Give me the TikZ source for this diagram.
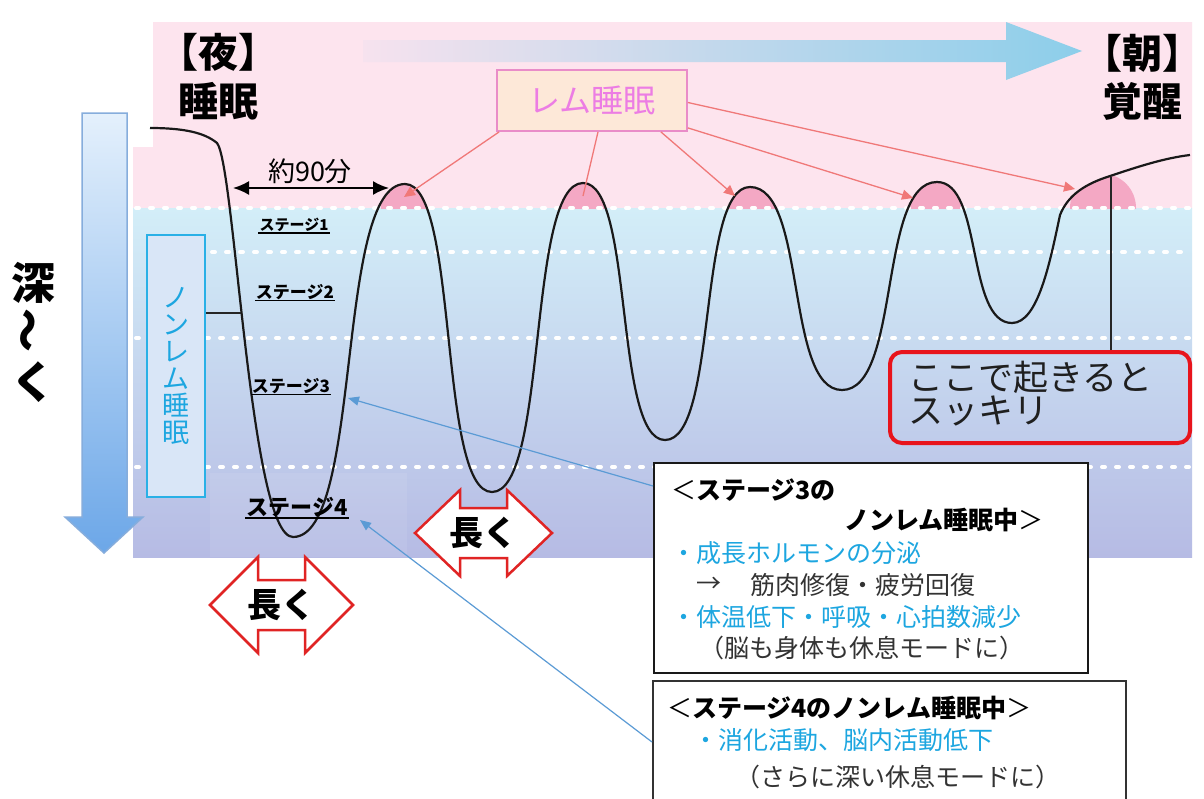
\documentclass[tikz,border=0pt]{standalone}
\usepackage{fontspec}
\usepackage{graphicx}
\setmainfont{Noto Sans CJK JP}
\newfontfamily\jp{Noto Sans CJK JP}
\newfontfamily\heavy{Noto Sans CJK JP Black}
\usetikzlibrary{arrows.meta}
\newcommand\setfs[1]{\fontsize{#1pt}{#1pt}\selectfont}
\definecolor{bgpink}{HTML}{FDE4EE}
\definecolor{bgtop}{HTML}{D3EEF8}
\definecolor{bgmid}{HTML}{D2DCF1}
\definecolor{bgbot}{HTML}{B6BBE4}
\definecolor{humppink}{HTML}{F4A8C4}
\definecolor{remred}{HTML}{F07878}
\definecolor{remboxfill}{HTML}{FDE8D8}
\definecolor{remboxdraw}{HTML}{E98CC8}
\definecolor{remtext}{HTML}{EC7DE4}
\definecolor{cyantext}{HTML}{1DA6E0}
\definecolor{cyanbox}{HTML}{29B0E6}
\definecolor{nremfill}{HTML}{D9E6F7}
\definecolor{arrowblue}{HTML}{5B9BD5}
\definecolor{redbox}{HTML}{E8141C}
\definecolor{nagared}{HTML}{E02424}
\definecolor{darktext}{HTML}{333333}
\definecolor{toparrowL}{HTML}{F6E2EE}
\definecolor{toparrowR}{HTML}{8CCEEA}
\definecolor{larrowT}{HTML}{E4F0FC}
\definecolor{larrowB}{HTML}{6CA7E8}
\definecolor{larrowD}{HTML}{86ADDC}
\def\sleepcurve{(150,128) .. controls (185,128) and (205,133) .. (217,143)
 .. controls (235,165) and (250,537) .. (293,537)
 .. controls +(70,0) and +(-70,0) .. (405,184)
 .. controls +(54,0) and +(-54,0) .. (492,492)
 .. controls +(56,0) and +(-56,0) .. (583,183)
 .. controls +(51,0) and +(-51,0) .. (665,440)
 .. controls +(53,0) and +(-53,0) .. (750,187)
 .. controls +(57,0) and +(-57,0) .. (842,390)
 .. controls +(59,0) and +(-59,0) .. (937,182)
 .. controls +(46,0) and +(-46,0) .. (1012,323)
 .. controls (1038,323) and (1050,262) .. (1060,215)
 .. controls (1068,195) and (1085,184) .. (1110,176)
 .. controls (1140,166) and (1165,158) .. (1190,155)}
\tikzset{
  dots/.style={white, line width=4pt, dash pattern=on 3pt off 11pt, line cap=round},
  sleep/.style={line width=2.2pt, draw={black!90}},
  remarrow/.style={remred, line width=1.3pt, -{Triangle[length=11pt,width=10pt]}},
  bluearrow/.style={arrowblue, line width=1.2pt, -{Triangle[length=11pt,width=9pt]}},
  stagelbl/.style={font=\heavy, inner sep=1pt},
  naga/.style={draw=nagared, line width=2.5pt, fill=white, line join=miter},
  nagatext/.style={font=\heavy\setfs{34}},
  boxtxt/.style={anchor=west, inner sep=0pt, font=\jp\setfs{25}},
}
\begin{document}
\begin{tikzpicture}[x=1pt,y=-1pt]
\useasboundingbox (0,0) rectangle (1204,798);
\fill[white] (0,0) rectangle (1204,798);
% backgrounds
\fill[bgpink] (153,22) -- (1192,22) -- (1192,208) -- (133,208) -- (133,147) -- (153,147) -- cycle;
\shade[top color=bgtop, middle color=bgmid, bottom color=bgbot] (133,208) rectangle (1192,557);
\fill[white, opacity=0.08] (210,473) rectangle (407,557);
% top time arrow
\shade[left color=toparrowL, right color=toparrowR] (363,40) -- (1006,40) -- (1006,22) -- (1082,51) -- (1006,80) -- (1006,62) -- (363,62) -- cycle;
% left depth arrow
\shadedraw[top color=larrowT, bottom color=larrowB, draw=larrowD, line width=1.5pt] (82,113) -- (127,113) -- (127,517) -- (143,517) -- (104,553) -- (65,517) -- (82,517) -- cycle;
% REM humps
\begin{scope}
  \clip (133,150) rectangle (1192,208);
  \clip \sleepcurve -- (1190,700) -- (150,700) -- cycle;
  \fill[humppink] (407,208) ellipse [x radius=26, y radius=30];
  \fill[humppink] (582,208) ellipse [x radius=23, y radius=30];
  \fill[humppink] (754,208) ellipse [x radius=25, y radius=30];
  \fill[humppink] (938,208) ellipse [x radius=29, y radius=30];
  \fill[humppink] (1103,208) ellipse [x radius=33, y radius=34];
\end{scope}
% dotted stage lines
\draw[dots] (136,208) -- (1190,208);
\draw[dots] (212,252) -- (1190,252);
\draw[dots] (136,338) -- (1190,338);
\draw[dots] (136,467) -- (1190,467);
% non-REM box
\node[draw=cyanbox, fill=nremfill, line width=2.5pt, minimum width=58pt, minimum height=262pt, inner sep=0pt,
      text=cyantext, align=center, font=\jp\setfs{27}] (nrem) at (176,366) {ノ\\ン\\レ\\ム\\睡\\眠};
% sleep curve
\draw[sleep] \sleepcurve;
\coordinate (nremhit) at (241,313);
\draw[line width=1.5pt, black!85] (nrem.east |- nremhit) -- (nremhit);
% 90 minutes
\coordinate (ar90l) at (233,188);
\coordinate (ar90r) at (389,188);
\draw[line width=2pt, {Latex[length=16pt,width=14pt]}-{Latex[length=16pt,width=14pt]}] (ar90l) -- (ar90r);
\node[font=\jp\setfs{27}, inner sep=0pt] (ninety) at (310,171) {約90分};
% titles
\node[font=\jp\bfseries\setfs{40}, inner sep=0pt] (night) at (218,52) {【夜】};
\node[font=\jp\bfseries\setfs{40}, inner sep=0pt] (sleepw) at (218,101) {睡眠};
\node[font=\jp\bfseries\setfs{40}, inner sep=0pt] (morning) at (1142,53) {【朝】};
\node[font=\jp\bfseries\setfs{40}, inner sep=0pt] (wakew) at (1142,101) {覚醒};
% deep
\node[font=\heavy\setfs{44}, inner sep=0pt] (deep1) at (33,283) {深};
\node[font=\heavy\setfs{44}, inner sep=0pt, rotate=90] (deep2) at (33,330) {～};
\node[font=\heavy\setfs{44}, inner sep=0pt] (deep3) at (33,382) {く};
% REM label box
\node[draw=remboxdraw, fill=remboxfill, line width=1.8pt, minimum width=190pt, minimum height=61pt,
      text=remtext, font=\jp\setfs{32}] (rem) at (592,100.5) {レム睡眠};
\coordinate (h1) at (404,197);
\coordinate (h2) at (583,196);
\coordinate (h3) at (735,196);
\coordinate (h4) at (913,198);
\coordinate (h5) at (1075,189);
\draw[remarrow] ([xshift=3pt]rem.south west) -- (h1);
\draw[remred, line width=1.3pt] ([xshift=6pt]rem.south) -- (h2);
\draw[remarrow] ([xshift=-27pt]rem.south east) -- (h3);
\draw[remarrow] ([yshift=4pt]rem.south east) -- (h4);
\draw[remarrow] ([yshift=-2pt]rem.east) -- (h5);
% stage labels
\node[stagelbl, font=\heavy\setfs{15}] (st1) at (294,225) {ステージ1};
\draw[line width=1.2pt] (st1.south west) -- (st1.south east);
\node[stagelbl, font=\heavy\setfs{17}] (st2) at (295,292) {ステージ2};
\draw[line width=1.2pt] (st2.south west) -- (st2.south east);
\node[stagelbl, font=\heavy\setfs{17}] (st3) at (291,386) {ステージ3};
\draw[line width=1.2pt] (st3.south west) -- (st3.south east);
\node[stagelbl, font=\heavy\setfs{22}] (st4) at (297,507) {ステージ4};
\draw[line width=1.4pt] (st4.south west) -- (st4.south east);
% long arrows
\draw[naga] (415,533) -- (460,490) -- (460,508) -- (507,508) -- (507,490) -- (552,533) -- (507,576) -- (507,558) -- (460,558) -- (460,576) -- cycle;
\node[nagatext] (longA) at (483,533) {長く};
\draw[naga] (210,605) -- (258,557) -- (258,580) -- (305,580) -- (305,557) -- (353,605) -- (305,653) -- (305,630) -- (258,630) -- (258,653) -- cycle;
\node[nagatext] (longB) at (281,605) {長く};
% wake box
\node[draw=redbox, line width=4pt, rounded corners=12pt, minimum width=300pt, minimum height=91pt, anchor=north west] (wakebox) at (888,350) {};
\node[anchor=west, inner sep=0pt, font=\jp\setfs{35}, text=black!88] (wake1) at (908,377) {ここで起きると};
\node[anchor=west, inner sep=0pt, font=\jp\setfs{35}, text=black!88] (wake2) at (908,411) {スッキリ};
\coordinate (wakept) at (1111,177);
\draw[line width=1.6pt, black!85] (wakept) -- (wakept |- wakebox.north);
% info box stage 3
\node[draw=black!90, line width=1.8pt, fill=white, minimum width=434pt, minimum height=210pt, anchor=north west] (box3) at (653,462) {};
\node[boxtxt] (b3l1) at (671,490) {＜{\heavy ステージ3の}};
\node[boxtxt, anchor=east] (b3l2) at (1044,520) {{\heavy ノンレム睡眠中}＞};
\node[boxtxt, text=cyantext] (b3l3) at (671,553) {・成長ホルモンの分泌};
\node[boxtxt, text=darktext] (b3arr) at (696,585) {→};
\node[boxtxt, text=darktext] (b3l4) at (750,585) {筋肉修復・疲労回復};
\node[boxtxt, text=cyantext] (b3l5) at (671,617) {・体温低下・呼吸・心拍数減少};
\node[boxtxt, text=darktext] (b3l6) at (699,648) {（脳も身体も休息モードに）};
% info box stage 4
\node[draw=black!80, line width=1.8pt, fill=white, minimum width=473pt, minimum height=140pt, anchor=north west] (box4) at (652,680) {};
\node[boxtxt] (b4l1) at (667,708) {＜{\heavy ステージ4のノンレム睡眠中}＞};
\node[boxtxt, text=cyantext] (b4l2) at (693,740) {・消化活動、脳内活動低下};
\node[boxtxt, text=darktext] (b4l3) at (735,777) {（さらに深い休息モードに）};
% blue pointers
\coordinate (st3tip) at (348,398);
\coordinate (st4tip) at (360,520);
\draw[bluearrow] (box3.north west) ++(0,24) -- (st3tip);
\draw[bluearrow] (box4.north west) ++(0,62) -- (st4tip);
\end{tikzpicture}
\end{document}
